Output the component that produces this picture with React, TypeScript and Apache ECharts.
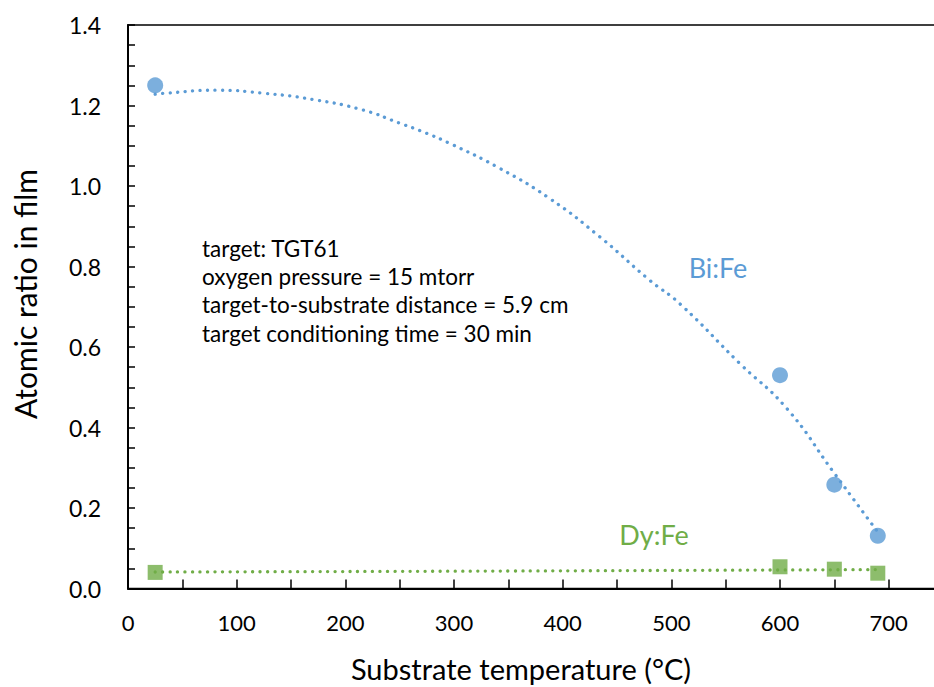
import React, { useEffect, useRef } from "react";
import * as echarts from "echarts";

const biFeX = [25, 600, 650, 690];
const biFeY = [1.25, 0.53, 0.258, 0.131];
const dyFeX = [25, 600, 650, 690];
const dyFeY = [0.04, 0.054, 0.048, 0.038];

// trendline samples
const biTrendX = [25, 32, 81, 123, 170, 216, 250, 271, 296, 342, 388, 434, 480, 508, 563, 606, 649, 690];
const biTrendY = [1.228, 1.23, 1.238, 1.231, 1.215, 1.189, 1.156, 1.135, 1.106, 1.044, 0.969, 0.874, 0.766, 0.707, 0.559, 0.448, 0.29, 0.14];
const dyTrendX = [25, 300, 600, 690];
const dyTrendY = [0.041, 0.043, 0.046, 0.047];

const annotationLines = [
  "target: TGT61",
  "oxygen pressure = 15 mtorr",
  "target-to-substrate distance = 5.9 cm",
  "target conditioning time = 30 min",
];

const xTitle = "Substrate temperature (°C)";
const yTitle = "Atomic ratio in film";

const BLUE = "#5B9BD5";
const GREEN = "#70AD47";
const FONT = "Lato";

function zip(xs: number[], ys: number[]) {
  return xs.map((x, i) => [x, ys[i]]);
}

export default function App() {
  const ref = useRef<HTMLDivElement>(null);
  useEffect(() => {
    if (!ref.current) return;
    const chart = echarts.init(ref.current, undefined, { renderer: "svg" });
    const dotted = { width: 3.3, type: [0.1, 7.4] as any, cap: "round" as any };
    chart.setOption({
      animation: false,
      backgroundColor: "#fff",
      grid: {
        left: 128,
        top: 25,
        width: 815,
        height: 563.5,
        show: true,
        borderColor: "#000",
        borderWidth: 1.5,
        backgroundColor: "transparent",
      },
      xAxis: {
        type: "value",
        min: 0,
        max: 750,
        interval: 50,
        splitLine: { show: false },
        axisLine: { lineStyle: { color: "#000", width: 2 } },
        axisTick: { inside: true, length: 9, lineStyle: { color: "#000", width: 1.5 } },
        axisLabel: {
          color: "#000",
          fontFamily: FONT,
          fontSize: 22,
          margin: 23,
          formatter: (v: number) => (v % 100 === 0 ? String(v) : ""),
        },
      },
      yAxis: {
        type: "value",
        min: 0,
        max: 1.4,
        interval: 0.2,
        splitLine: { show: false },
        axisLine: { lineStyle: { color: "#000", width: 2 } },
        axisTick: { inside: true, length: 7, lineStyle: { color: "#000", width: 1.5 } },
        minorTick: { show: true, splitNumber: 4, length: 7, lineStyle: { color: "#000", width: 1.5 } },
        axisLabel: {
          color: "#000",
          fontFamily: FONT,
          fontSize: 23,
          margin: 27,
          formatter: (v: number) => v.toFixed(1),
        },
      },
      series: [
        {
          type: "line",
          data: zip(biTrendX, biTrendY),
          smooth: true,
          symbol: "none",
          lineStyle: { ...dotted, color: BLUE },
          z: 2,
        },
        {
          type: "line",
          data: zip(dyTrendX, dyTrendY),
          smooth: true,
          symbol: "none",
          lineStyle: { ...dotted, color: GREEN },
          z: 2,
        },
        {
          type: "scatter",
          data: zip(biFeX, biFeY),
          symbol: "circle",
          symbolSize: 16,
          itemStyle: { color: BLUE },
          z: 3,
        },
        {
          type: "scatter",
          data: zip(dyFeX, dyFeY),
          symbol: "rect",
          symbolSize: 15,
          itemStyle: { color: GREEN },
          z: 3,
        },
      ],
      graphic: [
        ...annotationLines.map((t, i) => ({
          type: "text",
          x: 202,
          y: 248 + i * 28.4,
          style: { text: t, fill: "#000", font: `22.5px ${FONT}`, verticalAlign: "middle" },
        })),
        {
          type: "text",
          x: 718,
          y: 267,
          style: { text: "Bi:Fe", fill: BLUE, font: `27px ${FONT}`, align: "center", verticalAlign: "middle" },
        },
        {
          type: "text",
          x: 654,
          y: 534,
          style: { text: "Dy:Fe", fill: GREEN, font: `27px ${FONT}`, align: "center", verticalAlign: "middle" },
        },
        {
          type: "text",
          x: 521,
          y: 668,
          style: { text: xTitle, fill: "#000", font: `29px ${FONT}`, align: "center", verticalAlign: "middle" },
        },
        {
          type: "text",
          x: 25,
          y: 294,
          rotation: Math.PI / 2,
          style: { text: yTitle, fill: "#000", font: `30px ${FONT}`, align: "center", verticalAlign: "middle" },
        },
      ],
    });
    return () => chart.dispose();
  }, []);
  return (
    <div
      style={{ position: "absolute", left: 0, top: 0, width: 934, height: 687, overflow: "hidden" }}
    >
      <div ref={ref} style={{ width: 960, height: 687 }} />
    </div>
  );
}
